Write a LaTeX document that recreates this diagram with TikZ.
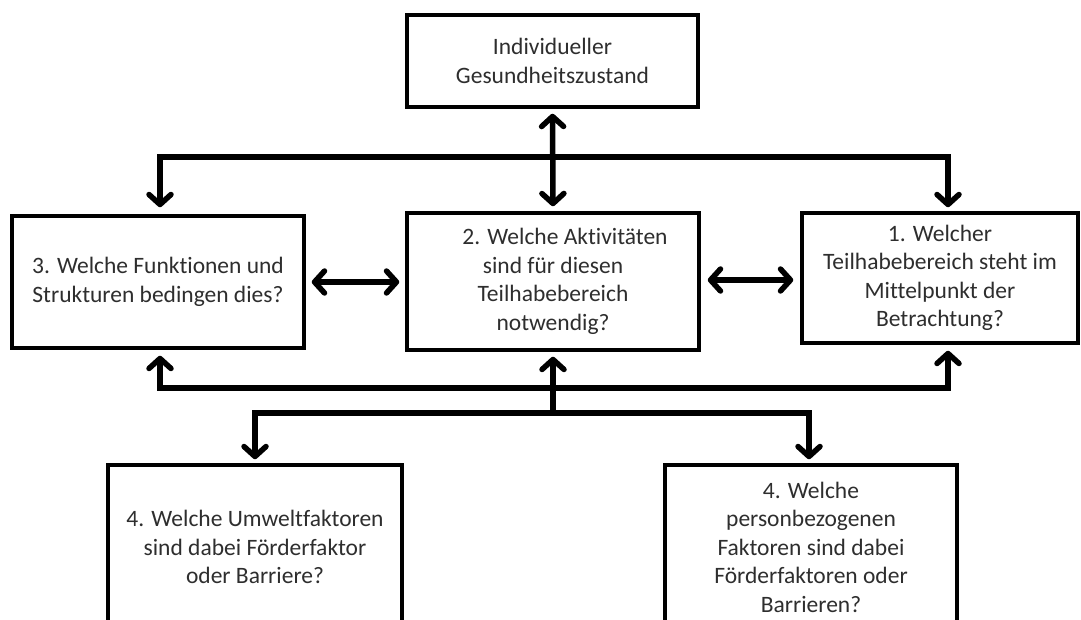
\documentclass[tikz,border=0pt]{standalone}
\usepackage{fontspec}
\setmainfont[Ligatures=NoCommon]{Carlito}
\usetikzlibrary{arrows.meta}
\begin{document}
\begin{tikzpicture}[x=1pt,y=-1pt,
  box/.style={draw=black, line width=3.5pt, fill=white, align=center, inner sep=0pt,
    text=black!82, font=\fontsize{23.5}{28.5}\selectfont},
  arr/.style={draw=black, line width=5.5pt, line join=miter},
  >={Straight Barb[length=10pt,width=22pt,round]}]
\useasboundingbox (0,0) rectangle (1081,620);
\clip (0,0) rectangle (1081,620);
\fill[white] (0,0) rectangle (1081,620);

\node[box, minimum width=291pt, minimum height=92pt] (top) at (552.5,61) {Individueller\\Gesundheitszustand};
\node[box, minimum width=292pt, minimum height=132pt] (left) at (158,282) {3. Welche Funktionen und\\Strukturen bedingen dies?};
\node[box, minimum width=292pt, minimum height=137pt] (mid) at (553,281.5) {\hspace*{24pt}2. Welche Aktivitäten\\sind für diesen\\Teilhabebereich\\notwendig?};
\node[box, minimum width=276pt, minimum height=130pt] (right) at (940,278) {1. Welcher\\Teilhabebereich steht im\\Mittelpunkt der\\Betrachtung?};
\node[box, minimum width=294pt, minimum height=164pt] (bleft) at (255,547) {4. Welche Umweltfaktoren\\sind dabei Förderfaktor\\oder Barriere?};
\node[box, minimum width=292pt, minimum height=164pt] (bright) at (811,547) {4. Welche\\personbezogenen\\Faktoren sind dabei\\Förderfaktoren oder\\Barrieren?};

\coordinate (tl) at (160,157);
\coordinate (tr) at (948,157);
\coordinate (ml) at (160,388);
\coordinate (mr) at (948,388);
\coordinate (mc) at (553,413);
\coordinate (bl) at (255,413);
\coordinate (br) at (809,413);

\draw[arr,<->,shorten <=5pt,shorten >=5pt] (top.south) -- (mid.north);
\draw[arr,<->,shorten <=7pt,shorten >=4pt] (tl |- left.north) -- (tl) -- (tr) -- (tr |- right.north);
\draw[arr,<->,shorten <=6pt,shorten >=6pt] (left.east |- 0,282) -- (mid.west |- 0,282);
\draw[arr,<->,shorten <=7pt,shorten >=7pt] (mid.east |- 0,280) -- (right.west |- 0,280);
\draw[arr,<->,shorten <=6pt,shorten >=6pt] (ml |- left.south) -- (ml) -- (mr) -- (mr |- right.south);
\draw[arr,->,shorten >=5pt] (mc) -- (mid.south);
\draw[arr,<->,shorten <=4pt,shorten >=4pt] (bl |- bleft.north) -- (bl) -- (br) -- (br |- bright.north);
\end{tikzpicture}
\end{document}
